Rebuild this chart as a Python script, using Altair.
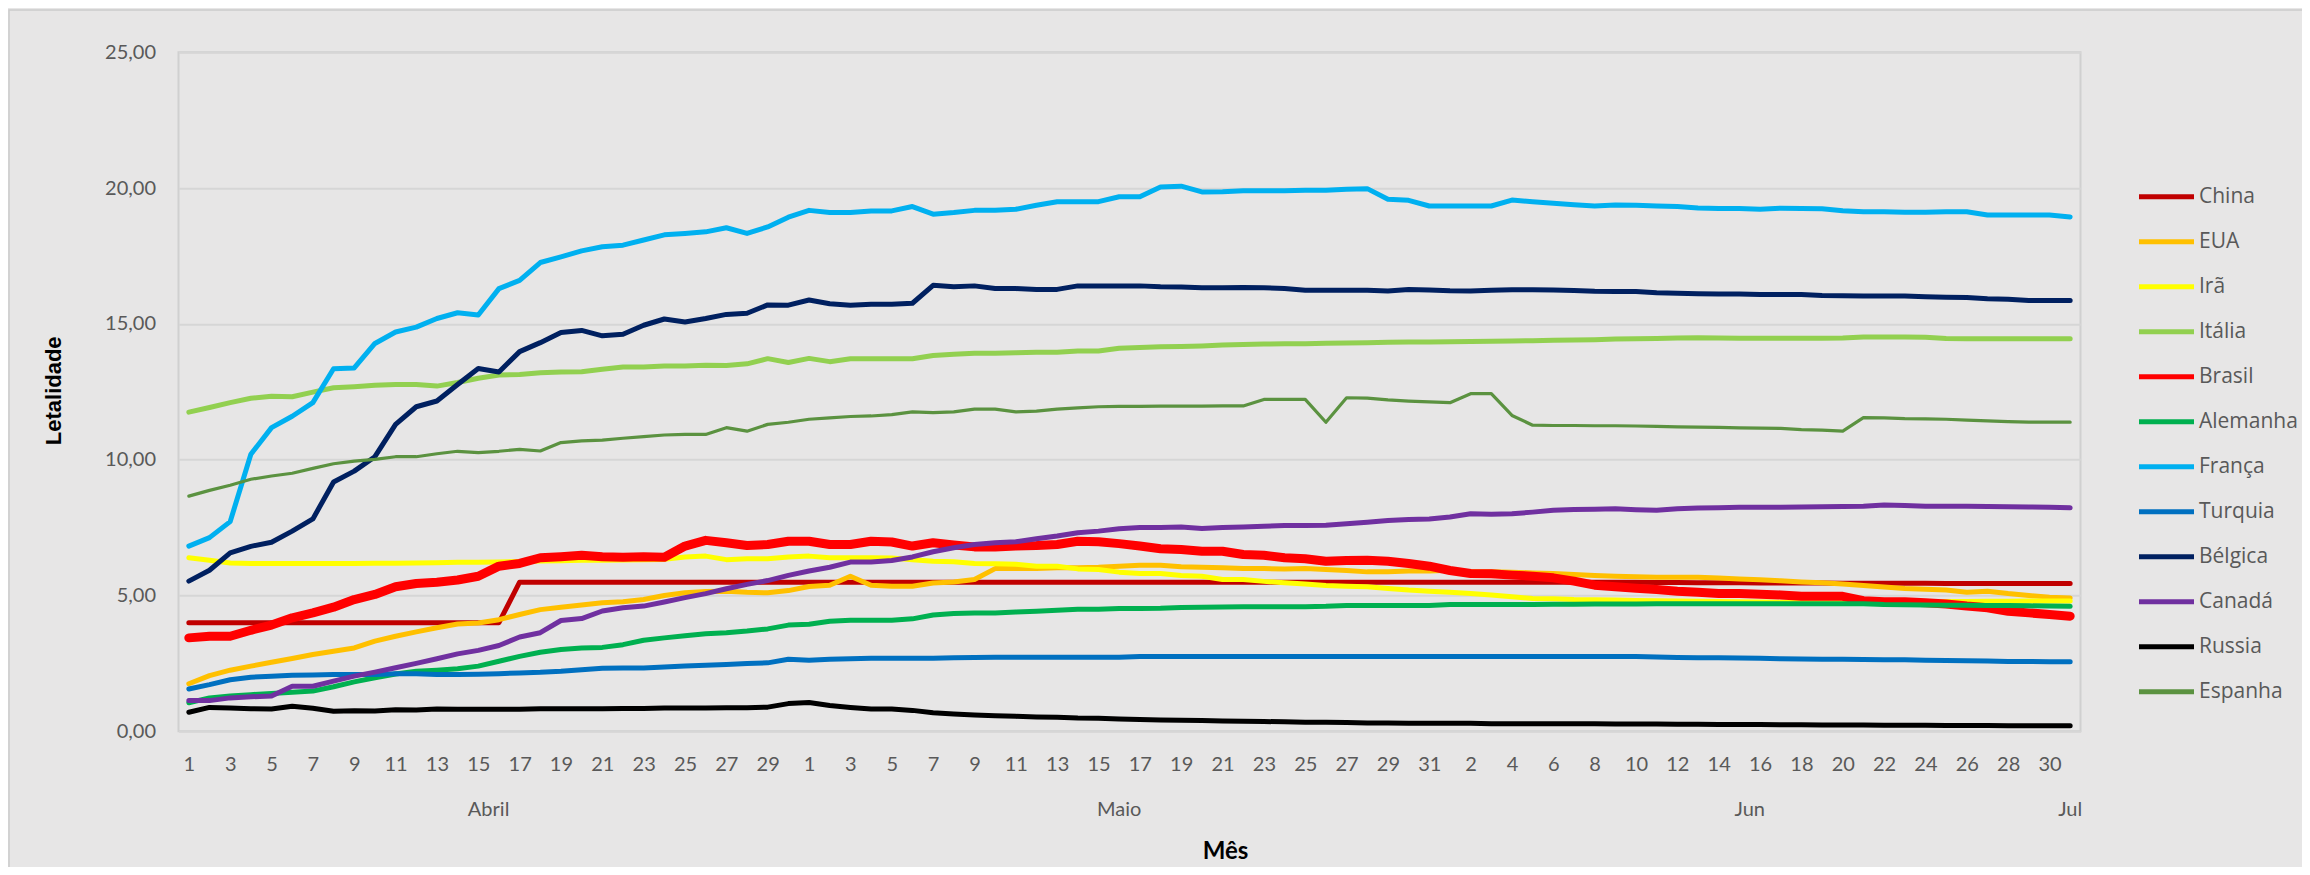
import json
import altair as alt
import pandas as pd

# ---------------- data ----------------
paises = ["China", "EUA", "Irã", "Itália", "Brasil", "Alemanha", "França",
          "Turquia", "Bélgica", "Canadá", "Russia", "Espanha"]

dias = list(range(1, 31)) + list(range(1, 32)) + list(range(1, 31)) + [1]
meses = ["Abril"] * 30 + ["Maio"] * 31 + ["Jun"] * 30 + ["Jul"]

china = [4.00, 4.00, 4.00, 4.00, 4.00, 4.00, 4.00, 4.00, 4.00, 4.00,
         4.00, 4.00, 4.00, 4.00, 4.00, 4.00, 5.49, 5.49, 5.49, 5.49,
         5.49, 5.49, 5.49, 5.49, 5.49, 5.49, 5.49, 5.49, 5.49, 5.49,
         5.49, 5.49, 5.49, 5.49, 5.49, 5.49, 5.49, 5.49, 5.49, 5.49,
         5.49, 5.49, 5.49, 5.49, 5.49, 5.49, 5.49, 5.49, 5.49, 5.49,
         5.49, 5.49, 5.49, 5.49, 5.49, 5.49, 5.49, 5.49, 5.49, 5.49,
         5.49, 5.49, 5.49, 5.49, 5.49, 5.49, 5.49, 5.49, 5.49, 5.49,
         5.49, 5.48, 5.48, 5.47, 5.47, 5.47, 5.46, 5.46, 5.46, 5.46,
         5.45, 5.45, 5.45, 5.45, 5.45, 5.44, 5.44, 5.44, 5.44, 5.44,
         5.44, 5.44]
eua = [1.75, 2.05, 2.25, 2.40, 2.54, 2.68, 2.83, 2.95, 3.07, 3.32,
       3.50, 3.66, 3.81, 3.95, 3.99, 4.11, 4.30, 4.48, 4.57, 4.65,
       4.73, 4.77, 4.85, 5.00, 5.10, 5.15, 5.16, 5.12, 5.10, 5.18,
       5.33, 5.38, 5.71, 5.38, 5.34, 5.34, 5.46, 5.50, 5.59, 5.99,
       5.99, 5.99, 6.02, 6.02, 6.04, 6.08, 6.11, 6.11, 6.06, 6.04,
       6.02, 5.99, 5.99, 5.98, 5.99, 5.96, 5.92, 5.87, 5.87, 5.90,
       5.90, 5.93, 5.87, 5.87, 5.86, 5.83, 5.81, 5.77, 5.74, 5.71,
       5.69, 5.67, 5.67, 5.67, 5.64, 5.61, 5.58, 5.54, 5.50, 5.47,
       5.42, 5.37, 5.31, 5.26, 5.23, 5.20, 5.12, 5.16, 5.07, 5.00,
       4.94, 4.91]
ira = [6.39, 6.30, 6.20, 6.18, 6.18, 6.18, 6.18, 6.18, 6.18, 6.19,
       6.19, 6.20, 6.21, 6.22, 6.22, 6.23, 6.25, 6.27, 6.28, 6.30,
       6.30, 6.31, 6.32, 6.33, 6.42, 6.45, 6.32, 6.35, 6.35, 6.42,
       6.45, 6.39, 6.39, 6.39, 6.38, 6.32, 6.26, 6.24, 6.18, 6.17,
       6.15, 6.08, 6.08, 5.98, 5.96, 5.86, 5.81, 5.81, 5.74, 5.71,
       5.59, 5.59, 5.52, 5.47, 5.42, 5.37, 5.34, 5.32, 5.26, 5.20,
       5.16, 5.12, 5.07, 5.02, 4.95, 4.89, 4.88, 4.85, 4.84, 4.83,
       4.82, 4.81, 4.80, 4.79, 4.78, 4.77, 4.76, 4.75, 4.74, 4.73,
       4.73, 4.74, 4.75, 4.76, 4.77, 4.78, 4.78, 4.79, 4.79, 4.80,
       4.80, 4.80]
italia = [11.75, 11.92, 12.10, 12.26, 12.34, 12.32, 12.49, 12.65, 12.69, 12.74,
          12.77, 12.77, 12.71, 12.84, 13.00, 13.12, 13.14, 13.20, 13.23, 13.24,
          13.33, 13.41, 13.41, 13.45, 13.45, 13.48, 13.47, 13.53, 13.72, 13.58,
          13.73, 13.61, 13.72, 13.72, 13.72, 13.72, 13.84, 13.88, 13.92, 13.92,
          13.94, 13.96, 13.96, 14.00, 14.00, 14.10, 14.13, 14.16, 14.17, 14.19,
          14.22, 14.24, 14.26, 14.27, 14.27, 14.29, 14.30, 14.31, 14.32, 14.33,
          14.33, 14.34, 14.35, 14.36, 14.37, 14.38, 14.40, 14.41, 14.42, 14.44,
          14.45, 14.46, 14.48, 14.49, 14.48, 14.47, 14.47, 14.47, 14.47, 14.47,
          14.48, 14.52, 14.52, 14.52, 14.51, 14.46, 14.45, 14.45, 14.45, 14.45,
          14.45, 14.45]
brasil = [3.44, 3.50, 3.50, 3.72, 3.91, 4.18, 4.36, 4.57, 4.85, 5.04,
          5.32, 5.44, 5.49, 5.57, 5.71, 6.08, 6.18, 6.39, 6.43, 6.48,
          6.43, 6.41, 6.43, 6.41, 6.82, 7.03, 6.94, 6.84, 6.88, 7.00,
          7.00, 6.88, 6.88, 7.00, 6.97, 6.82, 6.94, 6.86, 6.79, 6.79,
          6.82, 6.84, 6.88, 7.00, 6.98, 6.91, 6.82, 6.72, 6.69, 6.63,
          6.63, 6.51, 6.48, 6.39, 6.35, 6.26, 6.29, 6.30, 6.26, 6.18,
          6.08, 5.92, 5.81, 5.80, 5.75, 5.71, 5.65, 5.53, 5.38, 5.32,
          5.27, 5.22, 5.16, 5.12, 5.07, 5.07, 5.05, 5.02, 4.97, 4.97,
          4.97, 4.81, 4.77, 4.77, 4.73, 4.69, 4.61, 4.55, 4.42, 4.36,
          4.30, 4.24]
alemanha = [1.05, 1.23, 1.30, 1.35, 1.39, 1.44, 1.48, 1.64, 1.82, 1.97,
            2.11, 2.21, 2.25, 2.30, 2.40, 2.58, 2.76, 2.91, 3.01, 3.07,
            3.09, 3.19, 3.35, 3.44, 3.52, 3.59, 3.63, 3.69, 3.77, 3.91,
            3.94, 4.05, 4.09, 4.09, 4.09, 4.14, 4.28, 4.34, 4.36, 4.36,
            4.39, 4.42, 4.46, 4.49, 4.49, 4.52, 4.52, 4.53, 4.56, 4.57,
            4.58, 4.59, 4.59, 4.59, 4.59, 4.60, 4.63, 4.63, 4.63, 4.63,
            4.63, 4.67, 4.67, 4.67, 4.67, 4.67, 4.68, 4.68, 4.69, 4.69,
            4.69, 4.70, 4.70, 4.70, 4.70, 4.70, 4.70, 4.70, 4.70, 4.70,
            4.70, 4.70, 4.67, 4.66, 4.65, 4.64, 4.64, 4.63, 4.63, 4.62,
            4.61, 4.60]
franca = [6.82, 7.13, 7.72, 10.20, 11.18, 11.60, 12.10, 13.35, 13.38, 14.28,
          14.70, 14.88, 15.20, 15.41, 15.33, 16.30, 16.60, 17.26, 17.47, 17.69,
          17.84, 17.90, 18.09, 18.28, 18.33, 18.39, 18.54, 18.33, 18.57, 18.93,
          19.18, 19.10, 19.10, 19.16, 19.16, 19.32, 19.04, 19.10, 19.18, 19.18,
          19.22, 19.37, 19.50, 19.50, 19.50, 19.68, 19.68, 20.04, 20.07, 19.86,
          19.87, 19.90, 19.90, 19.90, 19.92, 19.92, 19.96, 19.98, 19.59, 19.55,
          19.34, 19.34, 19.34, 19.34, 19.56, 19.50, 19.44, 19.39, 19.34, 19.38,
          19.37, 19.34, 19.32, 19.27, 19.25, 19.25, 19.22, 19.26, 19.25, 19.24,
          19.17, 19.13, 19.13, 19.11, 19.11, 19.13, 19.13, 19.01, 19.01, 19.01,
          19.01, 18.94]
turquia = [1.56, 1.72, 1.90, 1.99, 2.03, 2.06, 2.07, 2.09, 2.09, 2.09,
           2.12, 2.12, 2.09, 2.09, 2.10, 2.12, 2.15, 2.17, 2.21, 2.27,
           2.32, 2.33, 2.33, 2.37, 2.40, 2.43, 2.46, 2.50, 2.52, 2.65,
           2.62, 2.65, 2.67, 2.69, 2.69, 2.69, 2.69, 2.71, 2.72, 2.73,
           2.73, 2.73, 2.73, 2.73, 2.73, 2.73, 2.75, 2.75, 2.75, 2.75,
           2.75, 2.75, 2.75, 2.75, 2.75, 2.75, 2.75, 2.75, 2.75, 2.75,
           2.75, 2.75, 2.75, 2.75, 2.75, 2.75, 2.75, 2.75, 2.75, 2.75,
           2.75, 2.74, 2.72, 2.71, 2.71, 2.70, 2.69, 2.67, 2.66, 2.65,
           2.65, 2.64, 2.63, 2.63, 2.62, 2.61, 2.60, 2.59, 2.57, 2.57,
           2.56, 2.56]
belgica = [5.53, 5.93, 6.57, 6.81, 6.96, 7.37, 7.82, 9.18, 9.58, 10.11,
           11.30, 11.95, 12.16, 12.77, 13.36, 13.23, 13.98, 14.31, 14.68, 14.76,
           14.56, 14.62, 14.95, 15.18, 15.07, 15.20, 15.35, 15.39, 15.70, 15.69,
           15.88, 15.74, 15.69, 15.72, 15.72, 15.76, 16.42, 16.37, 16.40, 16.30,
           16.30, 16.27, 16.27, 16.40, 16.40, 16.40, 16.40, 16.37, 16.36, 16.33,
           16.33, 16.34, 16.33, 16.30, 16.24, 16.24, 16.24, 16.24, 16.21, 16.27,
           16.25, 16.22, 16.21, 16.24, 16.26, 16.26, 16.25, 16.23, 16.20, 16.19,
           16.19, 16.15, 16.13, 16.11, 16.10, 16.10, 16.08, 16.08, 16.08, 16.05,
           16.04, 16.03, 16.03, 16.03, 16.00, 15.98, 15.97, 15.93, 15.91, 15.86,
           15.86, 15.86]
canada = [1.13, 1.13, 1.23, 1.27, 1.30, 1.66, 1.66, 1.85, 2.03, 2.18,
          2.34, 2.50, 2.67, 2.85, 2.98, 3.16, 3.47, 3.63, 4.08, 4.15,
          4.43, 4.55, 4.61, 4.76, 4.92, 5.07, 5.25, 5.41, 5.55, 5.74,
          5.90, 6.04, 6.23, 6.23, 6.29, 6.42, 6.61, 6.76, 6.88, 6.94,
          6.98, 7.09, 7.19, 7.31, 7.37, 7.46, 7.50, 7.50, 7.52, 7.47,
          7.50, 7.52, 7.55, 7.58, 7.58, 7.59, 7.64, 7.70, 7.76, 7.80,
          7.82, 7.89, 8.01, 7.99, 8.01, 8.07, 8.14, 8.17, 8.18, 8.19,
          8.16, 8.14, 8.19, 8.22, 8.23, 8.25, 8.25, 8.25, 8.26, 8.27,
          8.28, 8.29, 8.33, 8.31, 8.29, 8.29, 8.29, 8.28, 8.27, 8.26,
          8.25, 8.23]
russia = [0.70, 0.88, 0.86, 0.83, 0.82, 0.92, 0.85, 0.74, 0.76, 0.75,
          0.79, 0.78, 0.82, 0.81, 0.81, 0.81, 0.81, 0.83, 0.83, 0.83,
          0.83, 0.84, 0.84, 0.86, 0.86, 0.86, 0.87, 0.87, 0.89, 1.02,
          1.06, 0.95, 0.88, 0.82, 0.82, 0.77, 0.68, 0.64, 0.60, 0.57,
          0.55, 0.53, 0.52, 0.49, 0.48, 0.45, 0.43, 0.42, 0.41, 0.40,
          0.38, 0.37, 0.36, 0.35, 0.33, 0.33, 0.32, 0.31, 0.31, 0.30,
          0.30, 0.30, 0.30, 0.28, 0.28, 0.28, 0.28, 0.28, 0.28, 0.27,
          0.27, 0.27, 0.26, 0.26, 0.25, 0.25, 0.25, 0.24, 0.24, 0.23,
          0.23, 0.23, 0.22, 0.22, 0.22, 0.21, 0.21, 0.21, 0.20, 0.20,
          0.20, 0.20]
espanha = [8.66, 8.87, 9.06, 9.28, 9.40, 9.50, 9.68, 9.85, 9.95, 10.01,
           10.11, 10.11, 10.22, 10.31, 10.26, 10.31, 10.38, 10.32, 10.63, 10.69,
           10.72, 10.79, 10.85, 10.91, 10.93, 10.93, 11.18, 11.05, 11.30, 11.38,
           11.49, 11.54, 11.59, 11.61, 11.66, 11.76, 11.73, 11.76, 11.86, 11.86,
           11.76, 11.79, 11.86, 11.91, 11.95, 11.96, 11.96, 11.97, 11.97, 11.97,
           11.98, 11.98, 12.22, 12.22, 12.22, 11.38, 12.28, 12.27, 12.20, 12.16,
           12.13, 12.10, 12.43, 12.43, 11.63, 11.27, 11.26, 11.26, 11.25, 11.25,
           11.24, 11.23, 11.21, 11.20, 11.19, 11.17, 11.16, 11.15, 11.11, 11.09,
           11.05, 11.55, 11.54, 11.51, 11.50, 11.49, 11.46, 11.43, 11.40, 11.38,
           11.38, 11.38]

series = [china, eua, ira, italia, brasil, alemanha, franca,
          turquia, belgica, canada, russia, espanha]

# ---------------- styles ----------------
cores = ["#C00000", "#FFC000", "#FFFF00", "#92D050", "#FF0000", "#00B050",
         "#00B0F0", "#0070C0", "#002060", "#7030A0", "#000000", "#5B9240"]
BG = "#E7E6E6"
GRAY_TXT = "#595959"

rows = []
for pais, vals in zip(paises, series):
    for i, v in enumerate(vals):
        rows.append({"pais": pais, "idx": i, "valor": v})
df = pd.DataFrame(rows)

mes_df = (pd.DataFrame({"mes": meses, "idx": range(len(meses))})
          .groupby("mes", sort=False)["idx"].mean().reset_index())

W, H = 1902, 679
PAD_L, PAD_T = 170.5, 44.3
PAD_R = 2294 - PAD_L - W
PAD_B = 859 - PAD_T - H

xscale = alt.Scale(domain=[-0.5, len(dias) - 0.5], nice=False, zero=False)
label_expr = json.dumps([str(d) for d in dias]) + "[datum.value]"

x_axis = alt.Axis(values=list(range(0, len(dias) - 1, 2)), labelExpr=label_expr,
                  title="Mês", grid=False, ticks=False, domain=False,
                  labelFont="Lato", labelFontSize=20, labelColor=GRAY_TXT,
                  labelPadding=23, labelFlush=False, labelOverlap=False,
                  titleFont="Lato", titleFontSize=24, titleFontWeight="bold",
                  titleColor="#000000", titleX=1046.5, titleY=127,
                  titleAlign="center", titleBaseline="alphabetic")

y_enc = alt.Y(
    "valor:Q", scale=alt.Scale(domain=[0, 25], nice=False, zero=True),
    axis=alt.Axis(values=[0, 5, 10, 15, 20, 25],
                  labelExpr="replace(format(datum.value, '.2f'), '.', ',')",
                  title="Letalidade", grid=True, gridColor="#D6D6D6", gridWidth=2,
                  ticks=False, domain=False,
                  labelFont="Lato", labelFontSize=20, labelColor=GRAY_TXT,
                  labelPadding=23,
                  titleFont="Liberation Sans", titleFontSize=22, titleFontWeight="bold",
                  titleColor="#000000", titleAngle=270, titleX=-125, titleY=338,
                  titleAlign="center", titleBaseline="middle"),
)

lines = alt.Chart(df).mark_line(strokeCap="round", strokeJoin="round").encode(
    x=alt.X("idx:Q", scale=xscale, axis=x_axis),
    y=y_enc,
    color=alt.Color("pais:N", scale=alt.Scale(domain=paises, range=cores),
                    legend=alt.Legend(orient="none", legendX=1960.5, legendY=134,
                                      title=None, symbolType="M-5,0H5",
                                      symbolSize=121, symbolStrokeWidth=5,
                                      symbolOffset=17, labelOffset=22,
                                      labelFont="Open Sans", labelFontSize=21,
                                      labelColor=GRAY_TXT, labelBaseline="middle",
                                      rowPadding=23, padding=0)),
    strokeWidth={"value": 5,
                 "condition": [{"test": "datum.pais === 'Brasil'", "value": 9},
                               {"test": "datum.pais === 'Espanha'", "value": 3.2}]},
)

month_text = alt.Chart(mes_df).mark_text(
    font="Lato", fontSize=20, color=GRAY_TXT, baseline="middle", align="center"
).encode(
    x=alt.X("idx:Q", scale=xscale, axis=x_axis),
    y=alt.value(757.7),
    text="mes:N",
)

border = alt.Chart(pd.DataFrame({"k": [0]})).mark_rect(
    fillOpacity=0, stroke="#CBCBCB", strokeWidth=1.5
).encode(
    x=alt.value(-169.5), x2=alt.value(2200),
    y=alt.value(-42.3), y2=alt.value(900),
)

chart = alt.layer(border, lines, month_text).properties(
    width=W, height=H,
    autosize=alt.AutoSizeParams(type="none"),
    padding={"left": PAD_L, "top": PAD_T, "right": PAD_R, "bottom": PAD_B},
    background=BG,
).configure_view(stroke="#D0D0D0", strokeWidth=2)

chart.save("out.html", embed_options={"renderer": "svg", "actions": False})
